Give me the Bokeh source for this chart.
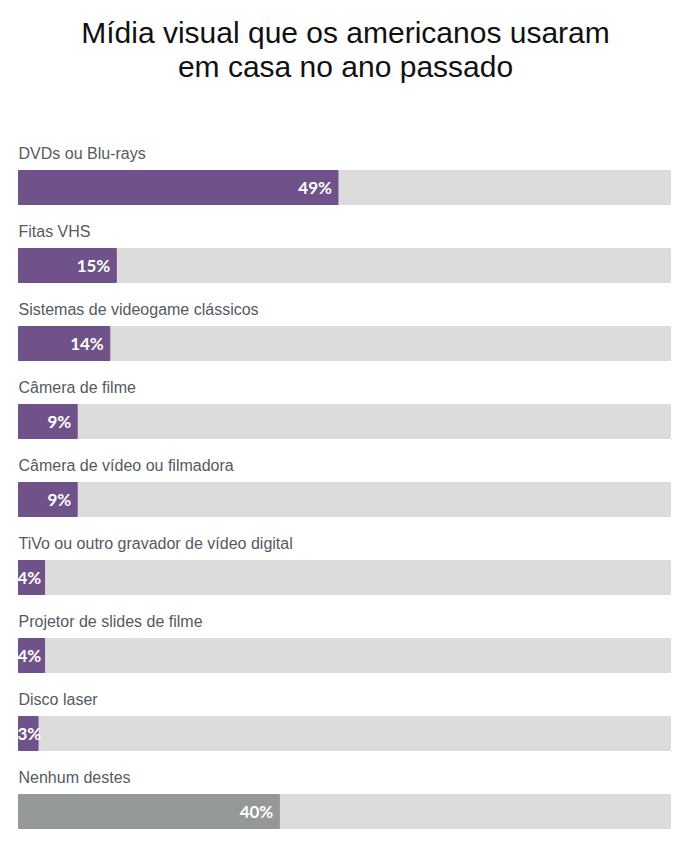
from bokeh.plotting import figure
from bokeh.models import Range1d, ColumnDataSource, Label
from bokeh.core.properties import value
from bokeh.embed import file_html
from bokeh.resources import INLINE

# Survey answers and shares (percent)
categories = [
    "DVDs ou Blu-rays",
    "Fitas VHS",
    "Sistemas de videogame clássicos",
    "Câmera de filme",
    "Câmera de vídeo ou filmadora",
    "TiVo ou outro gravador de vídeo digital",
    "Projetor de slides de filme",
    "Disco laser",
    "Nenhum destes",
]
shares = [49, 15, 14, 9, 9, 4, 4, 3, 40]
title_lines = ["Mídia visual que os americanos usaram", "em casa no ano passado"]

PURPLE = "#6f5289"
GREY = "#959898"
TRACK = "#dcdcdc"

W, H = 690, 847
left_px, right_px = 18, 670
row0_px, row_step = 187, 78

scale = 100 / (right_px - left_px)
x_start = -left_px * scale
x_end = 100 + (W - right_px) * scale
y_top = -row0_px / row_step
y_bottom = (H - row0_px) / row_step

rows = list(range(len(categories)))
colors = [GREY if c == "Nenhum destes" else PURPLE for c in categories]

# Value labels sit inside the bar end; on bars too short to hold them
# they are pinned to the bar's left edge instead.
narrow = [s < 5 for s in shares]
label_x = [0 if n else s for n, s in zip(narrow, shares)]
label_align = ["left" if n else "right" for n in narrow]
label_dx = [-1 if n else -6 for n in narrow]

src = ColumnDataSource(dict(
    row=rows,
    cat=categories,
    share=shares,
    full=[100] * len(rows),
    zero=[0] * len(rows),
    color=colors,
    label=[f"{s}%" for s in shares],
    lx=label_x,
    la=label_align,
    ldx=label_dx,
))

p = figure(width=W, height=H, output_backend="svg", toolbar_location=None,
           x_range=Range1d(x_start, x_end), y_range=Range1d(y_bottom, y_top),
           min_border=0, outline_line_color=None)
p.axis.visible = False
p.grid.visible = False
p.background_fill_color = "white"
p.border_fill_color = "white"

bar_h = 34 / row_step
p.hbar(y="row", left="zero", right="full", height=bar_h, color=TRACK, source=src)
p.hbar(y="row", left="zero", right="share", height=bar_h, color="color", source=src)

p.text(x="zero", y="row", text="cat", source=src, y_offset=-34,
       text_font=value("Liberation Sans"), text_font_size="16px",
       text_color="#555a5e", text_baseline="alphabetic", text_align="left")

p.text(x="lx", y="row", text="label", source=src, x_offset="ldx", y_offset=0,
       text_font=value("Lato"), text_font_style="bold", text_font_size="17px",
       text_color="white", text_baseline="middle", text_align="la")

for i, line in enumerate(title_lines):
    p.add_layout(Label(x=W / 2, y=H - 32 - 34 * i, x_units="screen", y_units="screen",
                       text=line, text_align="center", text_baseline="alphabetic",
                       text_font="Liberation Sans", text_font_size="30px",
                       text_color="#111111"))

open("out.html", "w").write(file_html(p, INLINE))
